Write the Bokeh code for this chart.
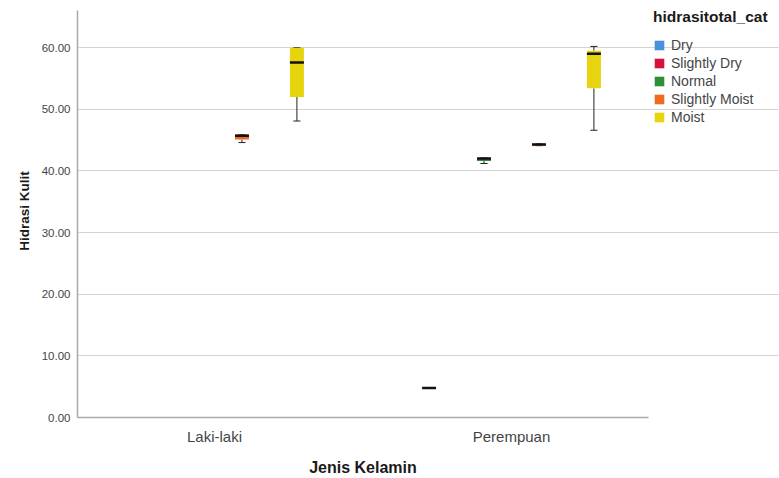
from bokeh.plotting import figure
from bokeh.models import (ColumnDataSource, Legend, LegendItem, FixedTicker,
                          Range1d, NumeralTickFormatter, LinearAxis)
from bokeh.embed import file_html
from bokeh.resources import INLINE

# Clustered box plot: skin hydration by gender and hydration category
genders = ["Laki-laki", "Perempuan"]
series = ["Dry", "Slightly Dry", "Normal", "Slightly Moist", "Moist"]
colors = ["#4a90dc", "#d4123c", "#2f8f34", "#f06a24", "#e6d40e"]

# five-number summaries (min, q1, median, q3, max), one entry per gender; None = no cases
dry_stats = [None, (4.8, 4.8, 4.8, 4.8, 4.8)]
slightly_dry_stats = [None, None]
normal_stats = [None, (41.2, 41.6, 42.0, 42.1, 42.1)]
slightly_moist_stats = [(44.6, 45.1, 45.7, 45.9, 45.9), (44.1, 44.1, 44.3, 44.4, 44.4)]
moist_stats = [(48.1, 52.0, 57.6, 60.0, 60.0), (46.6, 53.4, 59.0, 59.5, 60.2)]

y_ticks = [0, 10, 20, 30, 40, 50, 60]

all_stats = [dry_stats, slightly_dry_stats, normal_stats, slightly_moist_stats, moist_stats]

# only categories with cases get a slot inside each cluster
slotted = [i for i, st in enumerate(all_stats) if any(s is not None for s in st)]
n_slots = len(slotted)
step = 0.185
box_w = 0.047
cap_w = 0.024

# the plotting area proper spans x in [x_lo, x_hi]; the frame continues to the
# right edge so the legend can sit beside it
x_lo, x_hi = 0.0387, 1.9613
x_mid = (x_lo + x_hi) / 2
y_top = 66

p = figure(width=779, height=478, output_backend="svg", toolbar_location=None,
           x_range=Range1d(x_lo, 2.4024), y_range=Range1d(0, 67.0),
           min_border_left=77, min_border_right=0, min_border_top=4,
           min_border_bottom=61)
p.outline_line_color = None
p.background_fill_color = "white"
p.border_fill_color = "white"

nan = float("nan")
legend_items = []
for si, (name, color, stats) in enumerate(zip(series, colors, all_stats)):
    xs, lo, q1, med, q3, hi = [], [], [], [], [], []
    if si in slotted:
        slot = slotted.index(si)
        for gi, st in enumerate(stats):
            if st is None:
                continue
            xs.append(gi + 0.5 + (slot - (n_slots - 1) / 2) * step)
            lo.append(st[0]); q1.append(st[1]); med.append(st[2])
            q3.append(st[3]); hi.append(st[4])
    src = ColumnDataSource(dict(
        x=xs, lo=lo, q1=q1, med=med, q3=q3, hi=hi,
        xl=[x - box_w / 2 for x in xs], xr=[x + box_w / 2 for x in xs],
        cl=[x - cap_w / 2 for x in xs], cr=[x + cap_w / 2 for x in xs]))
    # whiskers and caps
    p.segment(x0="x", y0="q3", x1="x", y1="hi", source=src, line_color="#222222", line_width=1)
    p.segment(x0="x", y0="q1", x1="x", y1="lo", source=src, line_color="#222222", line_width=1)
    p.segment(x0="cl", y0="hi", x1="cr", y1="hi", source=src, line_color="#222222", line_width=1)
    p.segment(x0="cl", y0="lo", x1="cr", y1="lo", source=src, line_color="#222222", line_width=1)
    p.vbar(x="x", width=box_w, bottom="q1", top="q3", source=src,
           fill_color=color, line_color=None)
    p.segment(x0="xl", y0="med", x1="xr", y1="med", source=src,
              line_color="#111111", line_width=2.5)
    # legend swatch (drawn for every category, even one without cases)
    swatch = p.vbar(x=[nan], width=box_w, bottom=[nan], top=[nan],
                    fill_color=color, line_color=None)
    legend_items.append(LegendItem(label=name, renderers=[swatch]))

# axes
font = "Liberation Sans"
p.yaxis.ticker = FixedTicker(ticks=y_ticks)
p.yaxis.formatter = NumeralTickFormatter(format="0.00")
p.yaxis.bounds = (0, y_top)
p.xaxis.ticker = FixedTicker(ticks=[0.5, 1.5])
p.xaxis.major_label_overrides = {0.5: genders[0], 1.5: genders[1]}
p.xaxis.bounds = (x_lo, x_hi)
for ax in (p.xaxis[0], p.yaxis[0]):
    ax.axis_line_color = "#a8a8a8"
    ax.axis_line_width = 1.5
    ax.major_tick_line_color = None
    ax.minor_tick_line_color = None
    ax.major_label_text_font = font
    ax.axis_label_text_font = font
    ax.axis_label_text_font_style = "bold"
    ax.axis_label_text_color = "#1a1a1a"
    ax.major_label_text_color = "#444444"
p.yaxis.major_label_text_font_size = "11.5px"
p.yaxis.major_label_standoff = 1
p.yaxis.axis_label = "Hidrasi Kulit"
p.yaxis.axis_label_text_font_size = "13.5px"
p.yaxis.axis_label_standoff = 7
p.xaxis.major_label_text_font_size = "15px"
p.xaxis.major_label_standoff = 4

# x-axis title, centred under the plotting area rather than the whole frame
x_title_axis = LinearAxis(ticker=FixedTicker(ticks=[x_mid]),
                          major_label_overrides={x_mid: "Jenis Kelamin"},
                          axis_line_color=None, major_tick_line_color=None,
                          minor_tick_line_color=None, major_label_standoff=5,
                          major_label_text_font=font, major_label_text_font_style="bold",
                          major_label_text_font_size="16px",
                          major_label_text_color="#1a1a1a")
p.add_layout(x_title_axis, "below")

p.xgrid.grid_line_color = None
p.ygrid.ticker = FixedTicker(ticks=y_ticks)
p.ygrid.bounds = (x_lo, x_hi)
p.ygrid.grid_line_color = "#d4d4d4"
p.ygrid.grid_line_width = 1

legend = Legend(items=legend_items, location=(576, 292),
                title="hidrasitotal_cat", title_text_font=font,
                title_text_font_style="bold", title_text_font_size="15.5px",
                title_text_color="#1a1a1a", title_standoff=11,
                label_text_font=font, label_text_font_size="14px",
                label_text_color="#444444", glyph_width=12, glyph_height=12,
                label_height=14, label_standoff=6, spacing=2, padding=0, margin=0,
                border_line_color=None, background_fill_alpha=0)
p.add_layout(legend)

open("out.html", "w").write(file_html(p, INLINE))
